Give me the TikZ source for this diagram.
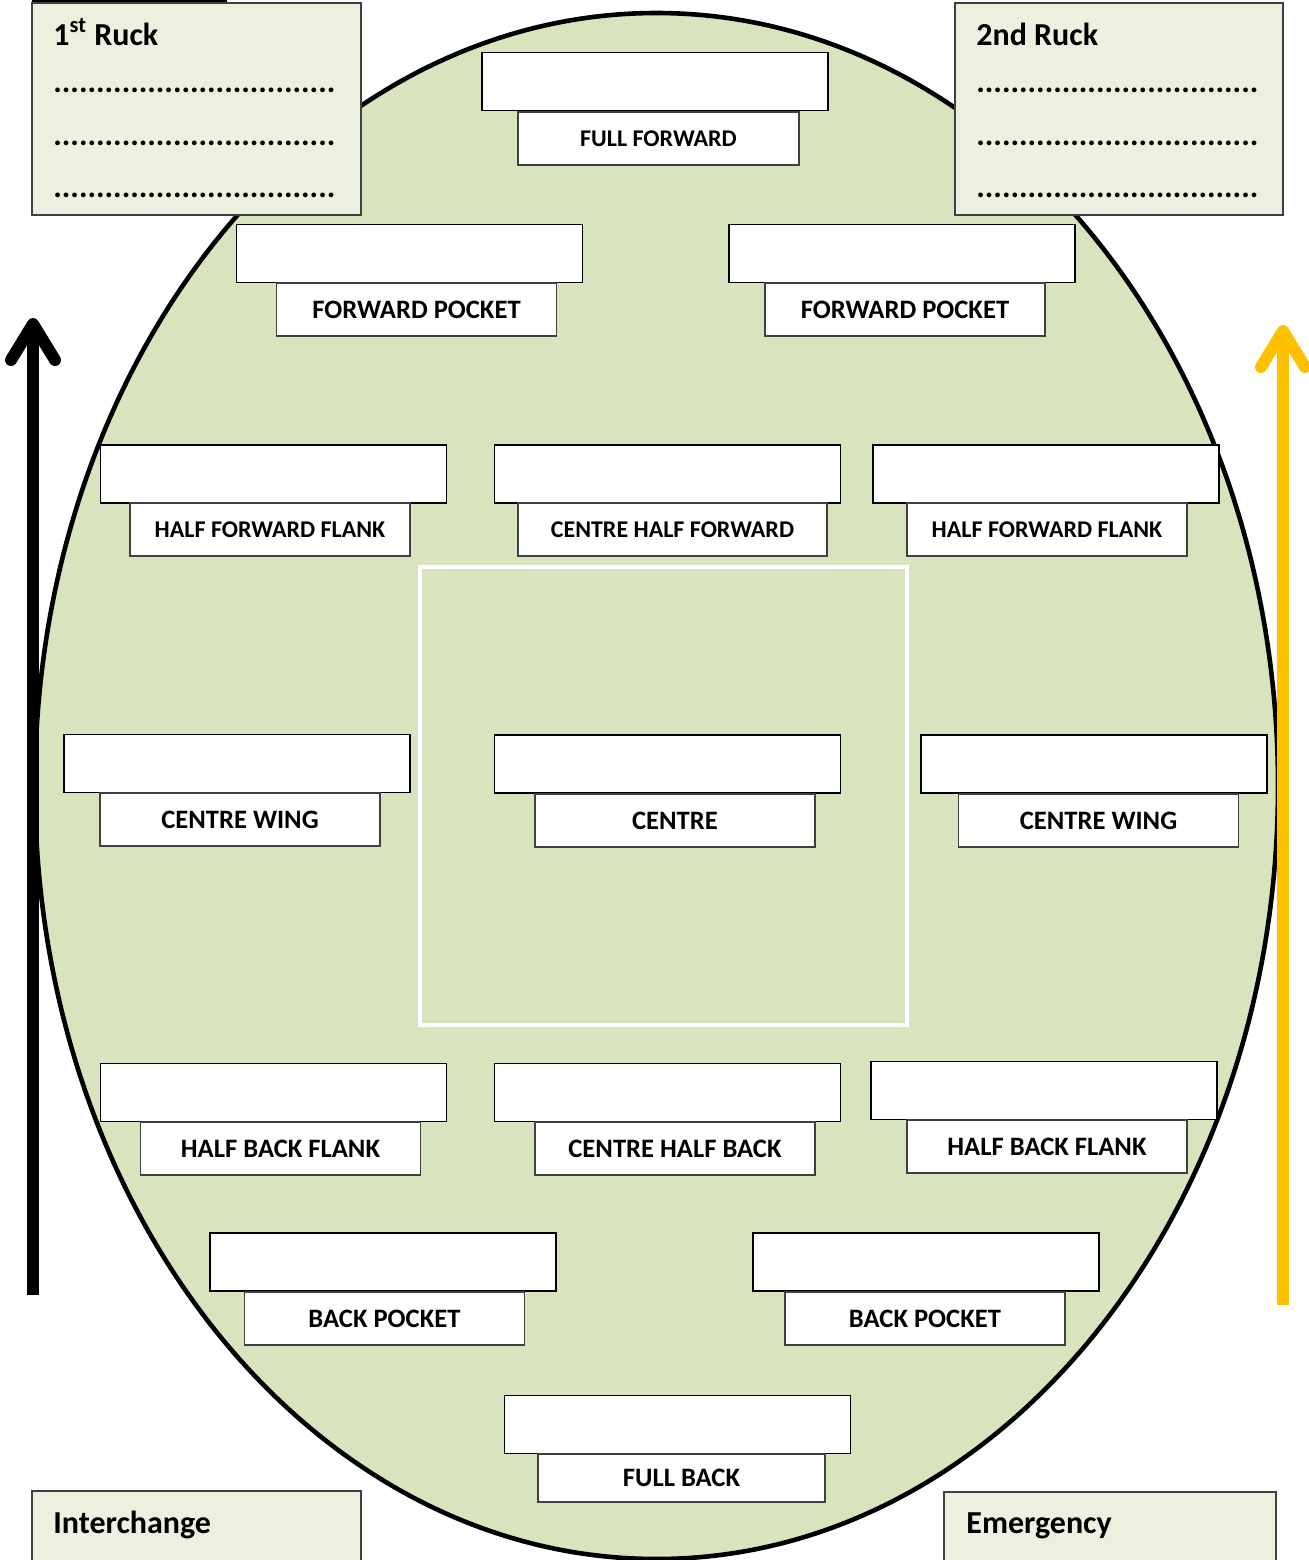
\documentclass[tikz,border=0pt]{standalone}
\usepackage{fontspec}
\setmainfont{Carlito}
\usetikzlibrary{arrows.meta}
\definecolor{pitch}{HTML}{D7E4BD}
\definecolor{notefill}{HTML}{EBF1DE}
\definecolor{gold}{HTML}{FFC000}
\begin{document}
\begin{tikzpicture}[x=0.5pt, y=-0.5pt,
    slot/.style={draw=black, fill=white, line width=0.8pt, minimum width=173pt, minimum height=29pt, inner sep=0pt},
    role/.style={draw=black!75, fill=white, line width=0.8pt, minimum width=140pt, minimum height=26.5pt, inner sep=0pt, font=\bfseries\fontsize{13.3}{15}\selectfont},
    rolesmall/.style={role, font=\bfseries\fontsize{12}{14}\selectfont},
    note/.style={draw=black!75, fill=notefill, line width=0.8pt, inner sep=0pt},
    title/.style={anchor=base west, inner sep=0pt, font=\bfseries\fontsize{16}{19}\selectfont},
]

\useasboundingbox (0,0) rectangle (1309,1560);

\fill (32,0) rectangle (227,3);

% the oval
\draw [fill=pitch, line width=2.3pt] (656.5,786) ellipse [x radius=310.75pt, y radius=386.5pt];
\draw [white, line width=2pt] (420,567) rectangle (907,1025);

% forward line
\node [slot] (FF) at (655,81.5) {};
\node [rolesmall, minimum width=140.5pt] (FFt) at (658.5,138.5) {FULL FORWARD};
\node [slot] (FPL) at (409.5,253.5) {};
\node [role] (FPLt) at (416.5,309.5) {FORWARD POCKET};
\node [slot] (FPR) at (902,253.5) {};
\node [role] (FPRt) at (905,309.5) {FORWARD POCKET};

% half forward line
\node [slot] (HFL) at (273.5,474) {};
\node [rolesmall] (HFLt) at (270,529.5) {HALF FORWARD FLANK};
\node [slot] (CHF) at (667.5,474) {};
\node [rolesmall, minimum width=154.5pt] (CHFt) at (672.5,529.5) {CENTRE HALF FORWARD};
\node [slot] (HFR) at (1046,474) {};
\node [rolesmall] (HFRt) at (1047,529.5) {HALF FORWARD FLANK};

% centre line
\node [slot] (CWL) at (237,763.5) {};
\node [role] (CWLt) at (240,819.5) {CENTRE WING};
\node [slot] (C) at (667.5,764) {};
\node [role] (Ct) at (675,820.5) {CENTRE};
\node [slot] (CWR) at (1094,764) {};
\node [role] (CWRt) at (1098.5,820.5) {CENTRE WING};

% half back line
\node [slot] (HBL) at (273.5,1092.5) {};
\node [role] (HBLt) at (280.5,1148.5) {HALF BACK FLANK};
\node [slot] (CHB) at (667.5,1092.5) {};
\node [role] (CHBt) at (675,1148.5) {CENTRE HALF BACK};
\node [slot] (HBR) at (1044,1090.5) {};
\node [role] (HBRt) at (1047,1146.5) {HALF BACK FLANK};

% back line
\node [slot] (BPL) at (383,1262) {};
\node [role] (BPLt) at (384.5,1318.5) {BACK POCKET};
\node [slot] (BPR) at (926,1262) {};
\node [role] (BPRt) at (925,1318.5) {BACK POCKET};
\node [slot] (FB) at (677.5,1424.5) {};
\node [role, minimum width=143.5pt, minimum height=24pt] (FBt) at (681.5,1478) {FULL BACK};

% ruck boxes
\node [note, minimum width=164.5pt, minimum height=106pt] (R1) at (196.5,109) {};
\node [title] (R1t) at (53,45) {1\textsuperscript{st} Ruck};
\node [title] (R1a) at (53,92) {.................................};
\node [title] (R1b) at (53,145) {.................................};
\node [title] (R1c) at (53,197) {.................................};

\node [note, minimum width=164pt, minimum height=106pt] (R2) at (1119,109) {};
\node [title] (R2t) at (976,45) {2nd Ruck};
\node [title] (R2a) at (976,92) {.................................};
\node [title] (R2b) at (976,145) {.................................};
\node [title] (R2c) at (976,197) {.................................};

% bench
\node [note, minimum width=164.5pt, minimum height=50pt] (IC) at (196.5,1541) {};
\node [title] (ICt) at (53,1533) {Interchange};
\node [note, minimum width=166pt, minimum height=50pt] (EM) at (1110,1542) {};
\node [title] (EMt) at (966,1533) {Emergency};

% arrows
\coordinate (up1) at (33,1295);
\coordinate (up2) at (33,318);
\coordinate (up3) at (1283,1305);
\coordinate (up4) at (1283,325);
\draw [-{Straight Barb[round, length=18pt, width=22pt]}, line width=6pt] (up1) -- (up2);
\draw [-{Straight Barb[round, length=18pt, width=22pt]}, line width=6pt, gold] (up3) -- (up4);

\end{tikzpicture}
\end{document}
